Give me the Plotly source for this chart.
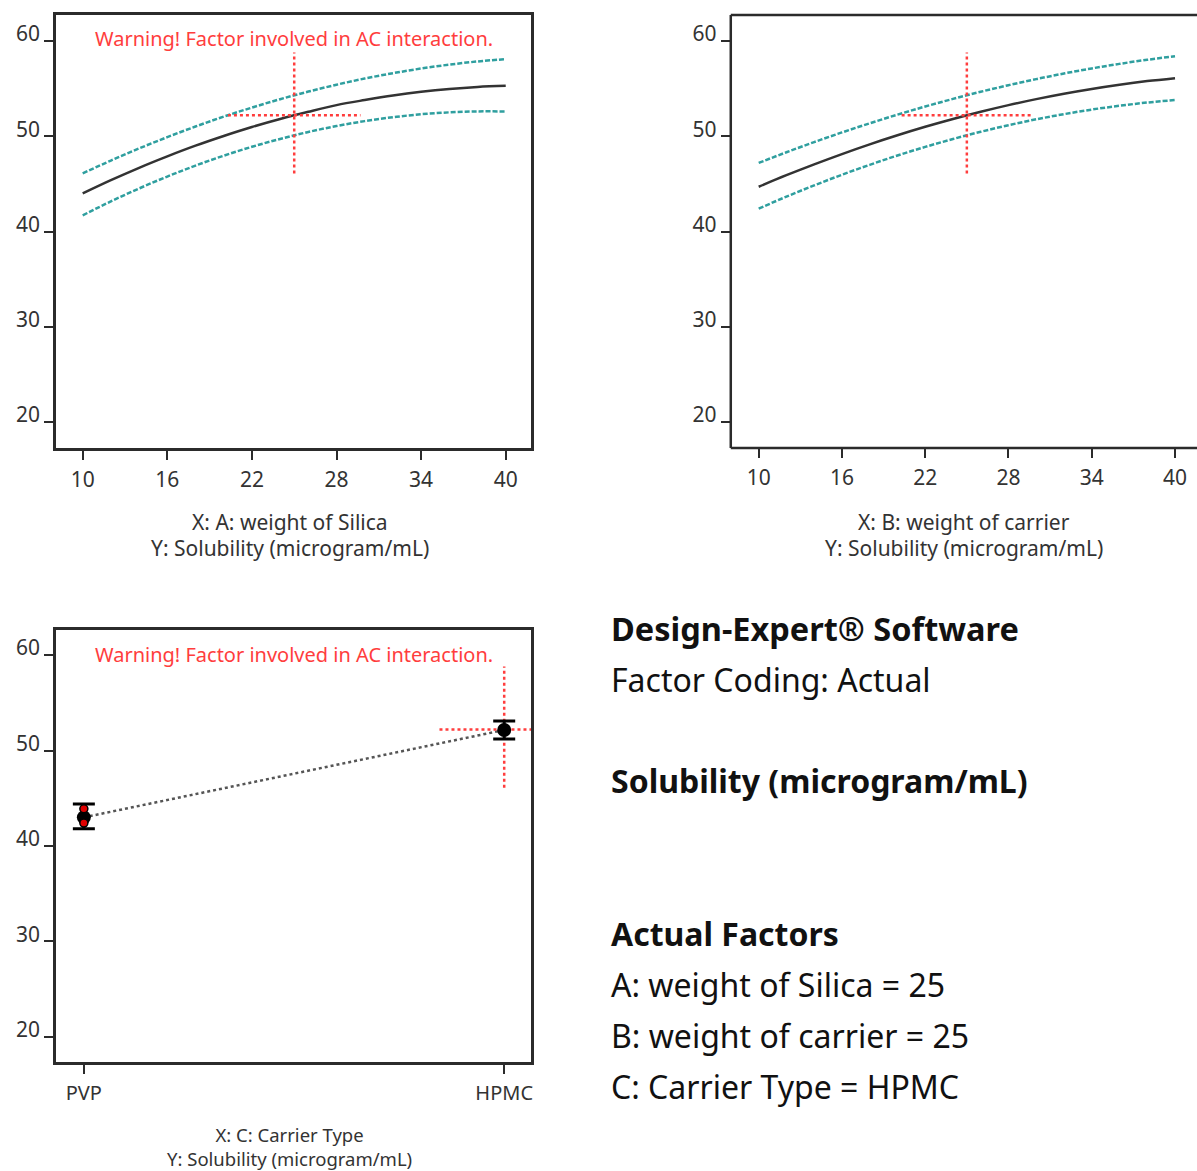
import plotly.graph_objects as go

W, H = 1197, 1171

# ---------------- data ----------------
factor_x = [10, 12, 14, 16, 18, 20, 22, 24, 26, 28, 30, 32, 34, 36, 38, 40]

A_mean = [44.00, 45.39, 46.69, 47.89, 49.01, 50.03, 50.97, 51.81,
          52.57, 53.27, 53.80, 54.28, 54.67, 54.97, 55.18, 55.30]
A_upper = [46.10, 47.45, 48.72, 49.91, 51.02, 52.06, 53.01, 53.89,
           54.69, 55.41, 56.06, 56.62, 57.11, 57.52, 57.85, 58.10]
A_lower = [41.70, 43.16, 44.52, 45.77, 46.92, 47.96, 48.89, 49.72,
           50.45, 51.07, 51.59, 52.00, 52.31, 52.51, 52.61, 52.60]

B_mean = [44.70, 45.91, 47.05, 48.13, 49.15, 50.10, 50.99, 51.81,
          52.57, 53.27, 53.90, 54.47, 54.97, 55.41, 55.79, 56.10]
B_upper = [47.20, 48.32, 49.39, 50.40, 51.36, 52.27, 53.12, 53.92,
           54.67, 55.36, 56.00, 56.59, 57.12, 57.60, 58.03, 58.40]
B_lower = [42.40, 43.66, 44.84, 45.96, 47.00, 47.98, 48.88, 49.71,
           50.47, 51.16, 51.78, 52.32, 52.80, 53.20, 53.54, 53.80]

factor_ticks = [10, 16, 22, 28, 34, 40]
y_ticks = [20, 30, 40, 50, 60]

carrier_types = ["PVP", "HPMC"]
carrier_mean = [43.0, 52.15]
carrier_ci_high = [44.4, 53.1]
carrier_ci_low = [41.8, 51.2]
pvp_design_points = [43.9, 42.4]

current_setting = 25
current_prediction = 52.2
cross_v_low, cross_v_high = 46.1, 58.8
cross_h_low_AB, cross_h_high_AB = 20.3, 29.7
cross_h_low_C, cross_h_high_C = 0.846, 1.154

warning_text = "Warning! Factor involved in AC interaction."

# ---------------- style ----------------
FONT = "Noto Sans"
BOX = "#2b2b2b"
TXT = "#333333"
TEAL = "#2f9f9f"
RED = "#ff3d3d"
MEANC = "#333333"

fig = go.Figure()


def add_curves(xa, ya, mean, up, lo):
    for ys in (up, lo):
        fig.add_trace(go.Scatter(x=factor_x, y=ys, mode="lines", xaxis=xa, yaxis=ya,
                                 line=dict(color=TEAL, width=2.5, dash="5px,2px", shape="spline"),
                                 hoverinfo="skip", showlegend=False))
    fig.add_trace(go.Scatter(x=factor_x, y=mean, mode="lines", xaxis=xa, yaxis=ya,
                             line=dict(color=MEANC, width=2.5, shape="spline"),
                             showlegend=False))
    fig.add_trace(go.Scatter(x=[current_setting, current_setting], y=[cross_v_low, cross_v_high],
                             mode="lines", xaxis=xa, yaxis=ya,
                             line=dict(color=RED, width=2.5, dash="dot"), showlegend=False))
    fig.add_trace(go.Scatter(x=[cross_h_low_AB, cross_h_high_AB],
                             y=[current_prediction, current_prediction],
                             mode="lines", xaxis=xa, yaxis=ya,
                             line=dict(color=RED, width=2.5, dash="dot"), showlegend=False))


add_curves("x", "y", A_mean, A_upper, A_lower)
add_curves("x2", "y2", B_mean, B_upper, B_lower)

# bottom-left categorical panel
carrier_pos = list(range(len(carrier_types)))
fig.add_trace(go.Scatter(x=carrier_pos, y=carrier_mean, mode="lines", xaxis="x3", yaxis="y3",
                         line=dict(color="#555555", width=2.5, dash="dot"), showlegend=False))
fig.add_trace(go.Scatter(x=[carrier_pos[1], carrier_pos[1]], y=[cross_v_low, cross_v_high],
                         mode="lines", xaxis="x3", yaxis="y3",
                         line=dict(color=RED, width=2.5, dash="dot"), showlegend=False))
fig.add_trace(go.Scatter(x=[cross_h_low_C, cross_h_high_C], y=[current_prediction, current_prediction],
                         mode="lines", xaxis="x3", yaxis="y3",
                         line=dict(color=RED, width=2.5, dash="dot"), showlegend=False))
fig.add_trace(go.Scatter(
    x=carrier_pos, y=carrier_mean, mode="markers", xaxis="x3", yaxis="y3",
    marker=dict(color="black", size=14),
    error_y=dict(type="data", symmetric=False,
                 array=[h - m for h, m in zip(carrier_ci_high, carrier_mean)],
                 arrayminus=[m - l for m, l in zip(carrier_mean, carrier_ci_low)],
                 color="black", thickness=3, width=11),
    showlegend=False))
fig.add_trace(go.Scatter(x=[carrier_pos[0]] * len(pvp_design_points), y=pvp_design_points,
                         mode="markers", xaxis="x3", yaxis="y3",
                         marker=dict(color="#e00000", size=8, line=dict(color="black", width=1.5)),
                         showlegend=False))


def px_x(p):
    return p / W


def px_y(p):
    return 1 - p / H


axis_common = dict(showline=True, linewidth=2.5, linecolor=BOX, ticks="outside",
                   ticklen=9, tickwidth=2, tickcolor=BOX, showgrid=False, zeroline=False,
                   tickfont=dict(family=FONT, size=21, color=TXT))

yaxis_common = dict(axis_common, tickvals=y_ticks, ticklabelshift=-7, ticklabelstandoff=0)

top_dom = [px_y(448), px_y(15)]
bot_dom = [px_y(1062), px_y(630)]

fig.update_layout(
    width=W, height=H, margin=dict(l=0, r=0, t=0, b=0),
    paper_bgcolor="white", plot_bgcolor="white",
    xaxis=dict(axis_common, domain=[px_x(56), px_x(532)], range=[8.1, 41.8],
               tickvals=factor_ticks, mirror=True, anchor="y", ticklabelstandoff=2),
    yaxis=dict(yaxis_common, domain=top_dom, range=[17.27, 62.73], mirror=True, anchor="x"),
    xaxis2=dict(axis_common, domain=[px_x(732), 1.0], range=[7.99, 41.44],
                tickvals=factor_ticks, showline=False, anchor="y2", ticklabelstandoff=2),
    yaxis2=dict(yaxis_common, domain=top_dom, range=[17.27, 62.73], showline=False, anchor="x2"),
    xaxis3=dict(axis_common, domain=[px_x(56), px_x(532)], range=[-0.0665, 1.064],
                tickvals=carrier_pos, ticktext=carrier_types, mirror=True, anchor="y3",
                ticklabelstandoff=2,
                tickfont=dict(family=FONT, size=20, color=TXT)),
    yaxis3=dict(yaxis_common, domain=bot_dom, range=[17.38, 62.62], mirror=True, anchor="x3"),
)

# border of the right-hand panel: left, top and bottom (its right edge falls outside the picture)
for x0, x1, y0, y1 in ((0, 1.05, 1, 1), (0, 1.05, 0, 0), (0, 0, 0, 1)):
    fig.add_shape(type="line", xref="x2 domain", yref="y2 domain", x0=x0, x1=x1, y0=y0, y1=y1,
                  line=dict(color=BOX, width=2.5))

ann = []
# warnings
for py in (38, 654):
    ann.append(dict(text=warning_text, x=px_x(294), y=px_y(py), xref="paper", yref="paper",
                    showarrow=False, xanchor="center", yanchor="middle",
                    font=dict(family=FONT, size=20, color=RED)))
# axis titles
titles = [
    ("X: A: weight of Silica", 290, 522, 21),
    ("Y: Solubility (microgram/mL)", 290, 548, 21),
    ("X: B: weight of carrier", 966, 522, 21),
    ("Y: Solubility (microgram/mL)", 966, 548, 21),
    ("X: C: Carrier Type<br>Y: Solubility (microgram/mL)", 290, 1146, 18.5),
]
for t, xx, yy, fs in titles:
    ann.append(dict(text=t, x=px_x(xx), y=px_y(yy), xref="paper", yref="paper",
                    showarrow=False, xanchor="center", yanchor="middle",
                    font=dict(family=FONT, size=fs, color=TXT)))

info = [
    ("<b>Design-Expert® Software</b>", 628, 32.5),
    ("Factor Coding: Actual", 679, 32),
    ("<b>Solubility (microgram/mL)</b>", 780, 32),
    ("<b>Actual Factors</b>", 933, 32),
    ("A: weight of Silica = 25", 984, 32),
    ("B: weight of carrier = 25", 1035, 32),
    ("C: Carrier Type = HPMC", 1086, 32),
]
for t, yy, fs in info:
    ann.append(dict(text=t, x=px_x(610), y=px_y(yy), xref="paper", yref="paper",
                    showarrow=False, xanchor="left", yanchor="middle",
                    font=dict(family=FONT, size=fs, color="#111111")))

fig.update_layout(annotations=ann)

fig.write_html(
    "out.html",
    config={"displayModeBar": False},
    post_script="document.body.style.margin='0';document.body.style.overflow='hidden';"
                "document.documentElement.style.overflow='hidden';",
)
